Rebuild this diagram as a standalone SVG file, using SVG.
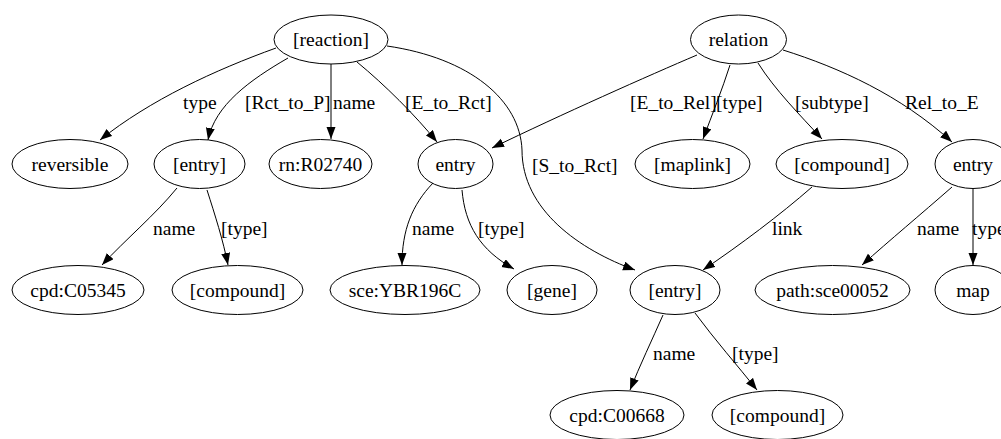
<svg xmlns="http://www.w3.org/2000/svg" width="1001" height="439" viewBox="0 0 1001 439">
<style>
.n ellipse{fill:none;stroke:#000;stroke-width:1}
text{font-family:"Liberation Serif","Times New Roman",serif;font-size:19.5px;fill:#000}
.n text{text-anchor:middle}
.e path{fill:none;stroke:#000;stroke-width:1;marker-end:url(#ah)}
</style>
<defs>
<marker id="ah" markerUnits="userSpaceOnUse" markerWidth="13" markerHeight="10" refX="12" refY="4.5" orient="auto">
<path d="M0,0 L12,4.5 L0,9 z" fill="#000"/>
</marker>
</defs>
<rect width="1001" height="439" fill="#fff"/>
<g id="edges" class="e">
<path d="M276,48 C215,70 150,100 100,140"/>
<path d="M288,58 C250,80 215,105 208,140"/>
<path d="M331,64 L331,139"/>
<path d="M357,62 C385,85 415,115 437,142"/>
<path d="M387,46 C470,58 520,100 522,150 C522,210 580,250 635,270"/>
<path d="M697,55 C650,75 560,115 492,148"/>
<path d="M730,65 C722,90 712,115 703,139"/>
<path d="M758,63 C775,90 800,115 822,139"/>
<path d="M783,50 C840,68 900,95 952,142"/>
<path d="M177,188 C155,215 125,240 102,265"/>
<path d="M207,190 C215,215 223,240 228,265"/>
<path d="M433,183 C412,205 402,230 402,265"/>
<path d="M462,190 C465,225 480,250 514,269"/>
<path d="M812,187 C780,215 740,245 703,270"/>
<path d="M952,187 C920,215 890,240 862,265"/>
<path d="M973,189 L973,265"/>
<path d="M663,315 C652,340 640,365 630,390"/>
<path d="M695,313 C715,340 737,365 757,390"/>
<text x="183" y="109">type</text>
<text x="245" y="109">[Rct_to_P]</text>
<text x="333" y="109">name</text>
<text x="405" y="109">[E_to_Rct]</text>
<text x="630" y="109">[E_to_Rel]</text>
<text x="716" y="109">[type]</text>
<text x="795" y="109">[subtype]</text>
<text x="905" y="109">Rel_to_E</text>
<text x="532" y="172">[S_to_Rct]</text>
<text x="153" y="235">name</text>
<text x="221" y="235">[type]</text>
<text x="412" y="235">name</text>
<text x="478" y="235">[type]</text>
<text x="772" y="235">link</text>
<text x="917" y="235">name</text>
<text x="972" y="235">type</text>
<text x="653" y="360">name</text>
<text x="732" y="360">[type]</text>
</g>
<g id="reaction" class="n"><ellipse cx="331" cy="39.5" rx="57" ry="24.5"/><text x="331" y="46">[reaction]</text></g>
<g id="relation" class="n"><ellipse cx="738.5" cy="39.5" rx="48" ry="24.5"/><text x="738.5" y="46">relation</text></g>
<g id="reversible" class="n"><ellipse cx="70" cy="164" rx="58" ry="24.5"/><text x="70" y="170.5">reversible</text></g>
<g id="entry1" class="n"><ellipse cx="199.5" cy="164" rx="45.5" ry="24.5"/><text x="199.5" y="170.5">[entry]</text></g>
<g id="rn" class="n"><ellipse cx="320.5" cy="164" rx="51.5" ry="24.5"/><text x="320.5" y="170.5">rn:R02740</text></g>
<g id="entry2" class="n"><ellipse cx="455.5" cy="164" rx="37.5" ry="24.5"/><text x="455.5" y="170.5">entry</text></g>
<g id="maplink" class="n"><ellipse cx="692.5" cy="164" rx="57.5" ry="24.5"/><text x="692.5" y="170.5">[maplink]</text></g>
<g id="compound1" class="n"><ellipse cx="842" cy="164" rx="66" ry="24.5"/><text x="842" y="170.5">[compound]</text></g>
<g id="entry3" class="n"><ellipse cx="973" cy="164" rx="38" ry="24.5"/><text x="973" y="170.5">entry</text></g>
<g id="cpd1" class="n"><ellipse cx="78" cy="290" rx="66" ry="24.5"/><text x="78" y="296.5">cpd:C05345</text></g>
<g id="compound2" class="n"><ellipse cx="237.5" cy="290" rx="65.5" ry="24.5"/><text x="237.5" y="296.5">[compound]</text></g>
<g id="sce" class="n"><ellipse cx="405" cy="290" rx="75" ry="24.5"/><text x="405" y="296.5">sce:YBR196C</text></g>
<g id="gene" class="n"><ellipse cx="552" cy="290" rx="45" ry="24.5"/><text x="552" y="296.5">[gene]</text></g>
<g id="entry4" class="n"><ellipse cx="675" cy="290" rx="45" ry="24.5"/><text x="675" y="296.5">[entry]</text></g>
<g id="path" class="n"><ellipse cx="832.5" cy="290" rx="77.5" ry="24.5"/><text x="832.5" y="296.5">path:sce00052</text></g>
<g id="map" class="n"><ellipse cx="973" cy="290" rx="38" ry="24.5"/><text x="973" y="296.5">map</text></g>
<g id="cpd2" class="n"><ellipse cx="617" cy="415" rx="67" ry="24.5"/><text x="617" y="421.5">cpd:C00668</text></g>
<g id="compound3" class="n"><ellipse cx="777.5" cy="415" rx="65.5" ry="24.5"/><text x="777.5" y="421.5">[compound]</text></g>
</svg>
